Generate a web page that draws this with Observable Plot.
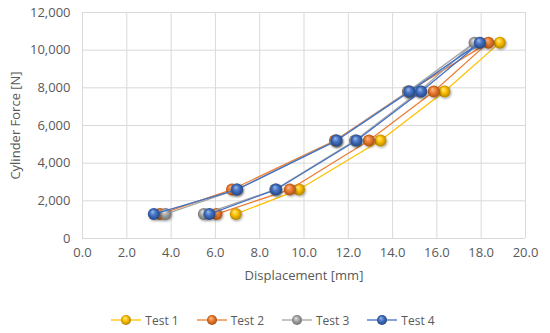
<!DOCTYPE html>
<html>
<head>
<meta charset="utf-8">
<script src="https://cdn.jsdelivr.net/npm/d3@7"></script>
<script src="https://cdn.jsdelivr.net/npm/@observablehq/plot@0.6"></script>
<style>
  body { margin: 0; background: #fff; font-family: "Open Sans", sans-serif; }
  #legend { display: flex; justify-content: center; align-items: center; gap: 18px; margin-top: 25px; height: 20px; color: #595959; font-size: 12px; padding-right: 4px; }
  .item { display: flex; align-items: center; gap: 4px; }
</style>
</head>
<body>
<div id="chart"></div>
<div id="legend"></div>
<script>
const seriesNames = ["Test 1", "Test 2", "Test 3", "Test 4"];
const seriesColors = ["#FFC000", "#ED7D31", "#A5A5A5", "#4472C4"];
const lightColors = ["#FFEB8A", "#F9BE92", "#E6E6E6", "#9DB9EC"];
const darkColors = ["#A67C00", "#9E4A12", "#6A6A6A", "#203F78"];

const test1Force = [1300, 2600, 5200, 7800, 10400];
const test1Disp  = [6.92, 9.77, 13.45, 16.34, 18.84];

const loopForce = [1300, 2600, 5200, 7800, 10400, 7800, 5200, 2600, 1300];
const test2Disp = [6.05, 9.36, 12.93, 15.86, 18.32, 14.70, 11.40, 6.75, 3.50];
const test3Disp = [5.48, 8.70, 12.30, 15.20, 17.70, 14.70, 11.45, 6.95, 3.75];
const test4Disp = [5.73, 8.74, 12.37, 15.29, 17.94, 14.76, 11.47, 6.98, 3.22];

const xTicks = [0, 2, 4, 6, 8, 10, 12, 14, 16, 18, 20];
const yTicks = [0, 2000, 4000, 6000, 8000, 10000, 12000];

const seriesData = [
  test1Disp.map((d, i) => ({x: d, y: test1Force[i]})),
  test2Disp.map((d, i) => ({x: d, y: loopForce[i]})),
  test3Disp.map((d, i) => ({x: d, y: loopForce[i]})),
  test4Disp.map((d, i) => ({x: d, y: loopForce[i]}))
];

const marks = [
  Plot.gridX(xTicks, {stroke: "#d9d9d9", strokeOpacity: 1}),
  Plot.gridY(yTicks, {stroke: "#d9d9d9", strokeOpacity: 1}),
  Plot.axisX(xTicks, {tickSize: 0, tickPadding: 9, tickFormat: d => d.toFixed(1), label: "Displacement [mm]", labelArrow: "none", labelAnchor: "center", labelOffset: 41, fontSize: 13}),
  Plot.axisY(yTicks, {tickSize: 0, tickPadding: 12, tickFormat: d3.format(","), label: "Cylinder Force [N]", labelArrow: "none", labelAnchor: "center", labelOffset: 72, fontSize: 13})
];
seriesData.forEach((data, k) => {
  marks.push(Plot.line(data, {x: "x", y: "y", stroke: seriesColors[k], strokeWidth: 1.3}));
  marks.push(Plot.dot(data, {x: "x", y: "y", r: 6, fill: `url(#sph${k})`, stroke: "none"}));
});

const chart = Plot.plot({
  width: 550,
  height: 285,
  marginLeft: 82,
  marginRight: 25,
  marginTop: 12,
  marginBottom: 47,
  x: {domain: [0, 20], label: "Displacement [mm]", labelArrow: "none"},
  y: {domain: [0, 12000], label: "Cylinder Force [N]", labelArrow: "none"},
  style: {fontFamily: "Open Sans, sans-serif", fontSize: "13px", color: "#595959", background: "#fff"},
  marks
});

function addDefs(svg) {
  const ns = "http://www.w3.org/2000/svg";
  const defs = document.createElementNS(ns, "defs");
  let html = `<filter id="shadow" x="-50%" y="-50%" width="200%" height="200%"><feDropShadow dx="1" dy="1.2" stdDeviation="0.9" flood-color="#000" flood-opacity="0.35"/></filter>`;
  seriesColors.forEach((c, k) => {
    html += `<radialGradient id="sph${k}" cx="0.5" cy="0.5" r="0.55" fx="0.38" fy="0.3">
      <stop offset="0" stop-color="${lightColors[k]}"/>
      <stop offset="0.45" stop-color="${c}"/>
      <stop offset="1" stop-color="${darkColors[k]}"/>
    </radialGradient>`;
  });
  defs.innerHTML = html;
  svg.insertBefore(defs, svg.firstChild);
}
addDefs(chart);
chart.querySelectorAll('g[aria-label="dot"]').forEach(g => g.setAttribute("filter", "url(#shadow)"));
document.getElementById("chart").appendChild(chart);

const legend = document.getElementById("legend");
seriesNames.forEach((name, k) => {
  const item = document.createElement("div");
  item.className = "item";
  item.innerHTML = `<svg width="30" height="14" viewBox="0 0 30 14">
    <defs><radialGradient id="lg${k}" cx="0.5" cy="0.5" r="0.55" fx="0.38" fy="0.3">
      <stop offset="0" stop-color="${lightColors[k]}"/>
      <stop offset="0.45" stop-color="${seriesColors[k]}"/>
      <stop offset="1" stop-color="${darkColors[k]}"/>
    </radialGradient></defs>
    <line x1="0" x2="30" y1="7" y2="7" stroke="${seriesColors[k]}" stroke-width="1.3"/>
    <circle cx="15" cy="7" r="5" fill="url(#lg${k})"/>
  </svg><span>${name}</span>`;
  legend.appendChild(item);
});
</script>
</body>
</html>
